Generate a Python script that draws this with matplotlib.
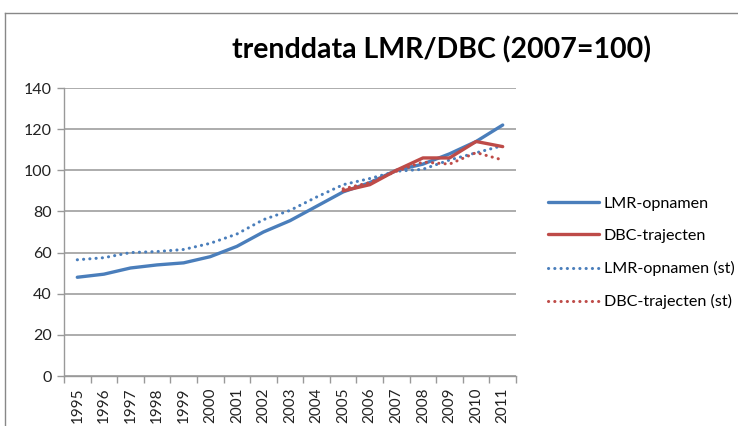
import matplotlib
matplotlib.use("Agg")
import matplotlib.pyplot as plt
from matplotlib.lines import Line2D
import numpy as np

years = [str(y) for y in range(1995, 2012)]
lmr = [48, 49.5, 52.5, 54, 55, 58, 63, 70, 75.5, 82.5, 89.5, 94, 100, 103, 108, 114, 122]
lmr_st = [56.5, 57.5, 60, 60.5, 61.5, 64.5, 69, 76, 80.5, 87, 93, 96, 99.5, 100.5, 105, 108.5, 112]
dbc_years = [str(y) for y in range(2005, 2012)]
dbc = [90, 93, 100, 106, 106, 114, 111.5]
dbc_st = [91, 94, 99.5, 104, 103, 108.6, 105]
yticks = [0, 20, 40, 60, 80, 100, 120, 140]

plt.rcParams['font.family'] = ['Lato', 'DejaVu Sans']
fig = plt.figure(figsize=(7.38, 4.26), dpi=100)
ax = fig.add_axes([64/738, 1-376/426, (516-64)/738, (376-88)/426])

x = np.arange(len(years))
xd = np.array([years.index(y) for y in dbc_years])
blue = '#4a7ebb'
red = '#be4b48'
ax.plot(x, lmr, color=blue, lw=2.4, solid_capstyle='round', label='LMR-opnamen', zorder=3)
ax.plot(xd, dbc, color=red, lw=2.4, solid_capstyle='round', label='DBC-trajecten', zorder=4)
ax.plot(x, lmr_st, color=blue, lw=2.2, ls=(0, (0.05, 2.0)), dash_capstyle='round', label='LMR-opnamen (st)', zorder=3)
ax.plot(xd, dbc_st, color=red, lw=2.2, ls=(0, (0.05, 2.0)), dash_capstyle='round', label='DBC-trajecten (st)', zorder=4)

ax.set_xlim(-0.5, len(years)-0.5)
ax.set_ylim(0, 140)
ax.set_yticks(yticks)
ax.set_yticklabels([str(v) for v in yticks])
ax.set_xticks(x)
ax.set_xticklabels(years, rotation=90)
ax.set_xticks(np.arange(-0.5, len(years)), minor=True)
ax.tick_params(axis='x', which='major', length=0, pad=8, labelsize=11, colors='#222222')
ax.tick_params(axis='x', which='minor', length=5, color='#999999', width=1)
ax.tick_params(axis='y', length=5, color='#999999', width=1, labelsize=11.5, labelcolor='#222222', pad=4)
ax.grid(axis='y', color='#a6a6a6', lw=1.3)
ax.set_axisbelow(True)
for s in ['top', 'right']:
    ax.spines[s].set_visible(False)
for s in ['left', 'bottom']:
    ax.spines[s].set_color('#999999')
    ax.spines[s].set_linewidth(1)

fig.text(442/738, 1-50/426, 'trenddata LMR/DBC (2007=100)', ha='center', va='center',
         fontsize=20.5, fontweight='bold', color='black')

leg = ax.legend(loc='upper left', bbox_to_anchor=(533/738, 1-182/426), bbox_transform=fig.transFigure,
                frameon=False, fontsize=11.6, handlelength=3.2, labelspacing=1.12, handletextpad=0.3)

fig.add_artist(Line2D([5/738, 1], [1-13/426, 1-13/426], transform=fig.transFigure, color='#888888', lw=1))
fig.add_artist(Line2D([5/738, 5/738], [0, 1-13/426], transform=fig.transFigure, color='#888888', lw=1))

fig.savefig('out.png', dpi=100)
